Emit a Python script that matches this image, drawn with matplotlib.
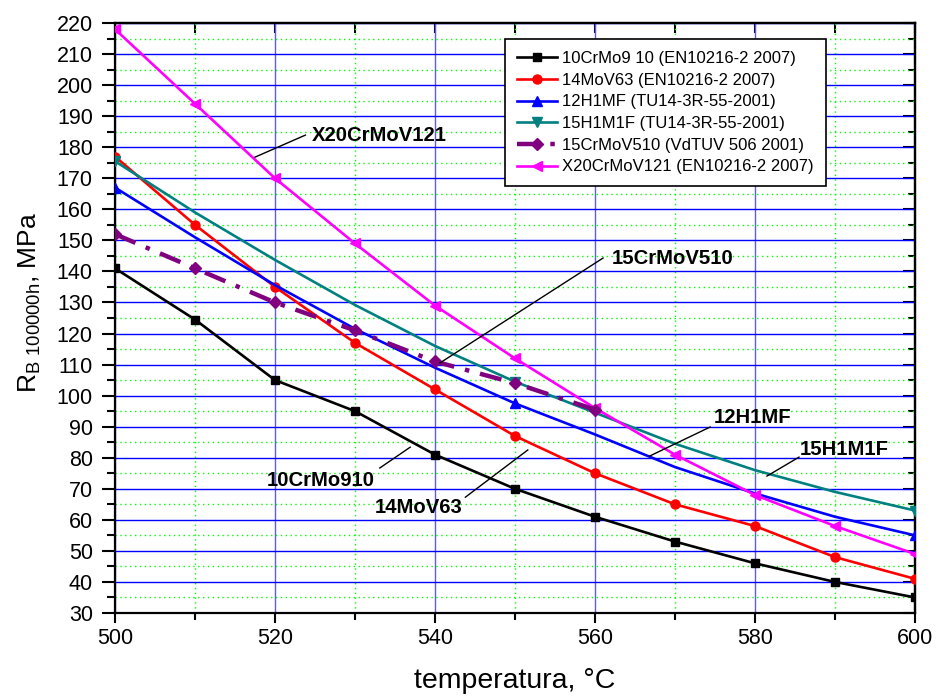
import numpy as np
import matplotlib
matplotlib.use("Agg")
import matplotlib.pyplot as plt
from matplotlib.ticker import MultipleLocator

plt.rcParams['font.family'] = ['Liberation Sans', 'DejaVu Sans']
plt.rcParams['mathtext.fontset'] = 'custom'
plt.rcParams['mathtext.rm'] = 'Liberation Sans'

# temperatures, degC
temp = [500, 510, 520, 530, 540, 550, 560, 570, 580, 590, 600]
temp_15crmov = [500, 510, 520, 530, 540, 550, 560]

# creep rupture strength R_B 100000h, MPa
r_10crmo910 = [141, 124.5, 105, 95, 81, 70, 61, 53, 46, 40, 35]
r_14mov63 = [177, 155, 135, 117, 102, 87, 75, 65, 58, 48, 41]
r_12h1mf = [167, 151, 135.6, 121.5, 109, 97.5, 87.5, 77, 68.5, 61, 55]
r_15h1m1f = [175.5, 159, 143.7, 129.2, 116, 104.5, 94.5, 84.5, 76, 69, 63]
r_15crmov510 = [152, 141, 130, 121, 111, 104, 95.5]
r_x20 = [218, 194, 170, 149, 129, 112, 96, 81, 68, 58, 49]

labels = ["10CrMo9 10 (EN10216-2 2007)", "14MoV63 (EN10216-2 2007)",
          "12H1MF (TU14-3R-55-2001)", "15H1M1F (TU14-3R-55-2001)",
          "15CrMoV510 (VdTUV 506 2001)", "X20CrMoV121 (EN10216-2 2007)"]

# annotation: name, text position, line start, line end
notes = [
    ("X20CrMoV121", (524.6, 183.9), (523.8, 183.9), (517.5, 176.8)),
    ("15CrMoV510", (562.1, 144.3), (561.0, 144.3), (540.6, 110.5)),
    ("10CrMo910", (519.0, 72.8), (533.1, 76.7), (536.9, 83.4)),
    ("14MoV63", (532.5, 64.1), (543.8, 67.3), (551.6, 82.5)),
    ("12H1MF", (574.8, 93.1), (574.4, 89.9), (566.8, 80.5)),
    ("15H1M1F", (585.6, 82.5), (585.5, 80.2), (581.5, 74.1)),
]

fig = plt.figure(figsize=(9.36, 6.97), dpi=100)
ax = fig.add_axes([115/936, 1-613/697, 800/936, 590/697])

ax.plot(temp, r_10crmo910, color='black', lw=1.9, marker='s', ms=5.5, label=labels[0], zorder=5)
ax.plot(temp, r_14mov63, color='#ff0000', lw=1.9, marker='o', ms=6.5, label=labels[1], zorder=5)
ax.plot(temp, r_12h1mf, color='#0000ff', lw=1.9, marker='^', ms=7, markevery=5, label=labels[2], zorder=5)
ax.plot(temp, r_15h1m1f, color='#008080', lw=1.9, marker='v', ms=7, markevery=5, label=labels[3], zorder=5)
ax.plot(temp_15crmov, r_15crmov510, color='#800080', lw=3.2, dashes=(5, 2.5, 1, 2.5),
        marker='D', ms=6.5, label=labels[4], zorder=6)
ax.plot(temp, r_x20, color='#ff00ff', lw=1.9, marker='<', ms=7, label=labels[5], zorder=5)

for name, txt, p0, p1 in notes:
    ax.plot([p0[0], p1[0]], [p0[1], p1[1]], color='black', lw=1.0, zorder=7)
    ax.text(txt[0], txt[1], name, fontsize=14.6, fontweight='bold', ha='left', va='center', zorder=8)

ax.set_xlim(500, 600)
ax.set_ylim(30, 220)
ax.xaxis.set_major_locator(MultipleLocator(20))
ax.xaxis.set_minor_locator(MultipleLocator(10))
ax.yaxis.set_major_locator(MultipleLocator(10))
ax.yaxis.set_minor_locator(MultipleLocator(5))

ax.grid(which='minor', color='#00ff00', linestyle=(0, (1, 2.5)), lw=1.0, zorder=0)
ax.grid(which='major', axis='y', color='#0000ff', lw=1.0, zorder=1)
ax.grid(which='major', axis='x', color='#5a5aff', lw=1.0, zorder=1)
ax.set_axisbelow(True)

ax.tick_params(which='both', direction='out', width=1.5, labelsize=15.5)
ax.tick_params(axis='x', which='major', length=7.5, pad=3.5)
ax.tick_params(axis='x', which='minor', length=5)
ax.tick_params(axis='y', which='major', length=9.5, pad=6.5)
ax.tick_params(axis='y', which='minor', length=6)
for s in ax.spines.values():
    s.set_linewidth(1.6)

top = ax.secondary_xaxis('top')
top.xaxis.set_major_locator(MultipleLocator(20))
top.xaxis.set_minor_locator(MultipleLocator(10))
top.tick_params(which='both', direction='in', labeltop=False, width=1.5, length=7.5)
right = ax.secondary_yaxis('right')
right.yaxis.set_major_locator(MultipleLocator(10))
right.yaxis.set_minor_locator(MultipleLocator(5))
right.tick_params(which='both', direction='in', labelright=False, width=1.5)
right.tick_params(which='major', length=8.5)
right.tick_params(which='minor', length=5)
top.spines['top'].set_linewidth(1.6)
right.spines['right'].set_linewidth(1.6)

ax.set_xlabel("temperatura, °C", fontsize=20.5)
ax.set_ylabel(r"R$_{\mathrm{B\ 100000h}}$, MPa", fontsize=19)
ax.xaxis.set_label_coords(0.5, (613 - 668) / 590)
ax.yaxis.set_label_coords((43 - 115) / 800, (613 - 302) / 590)

leg = ax.legend(loc='upper left', bbox_to_anchor=(505/936, 1-39/697), bbox_transform=fig.transFigure,
                fontsize=12, frameon=True, fancybox=False, edgecolor='black', framealpha=1,
                numpoints=1, handlelength=2.4, labelspacing=0.4, borderpad=0.72,
                handletextpad=0.3, borderaxespad=0)
leg.get_frame().set_linewidth(1.2)
leg.set_zorder(10)

fig.savefig("out.png", dpi=100)
